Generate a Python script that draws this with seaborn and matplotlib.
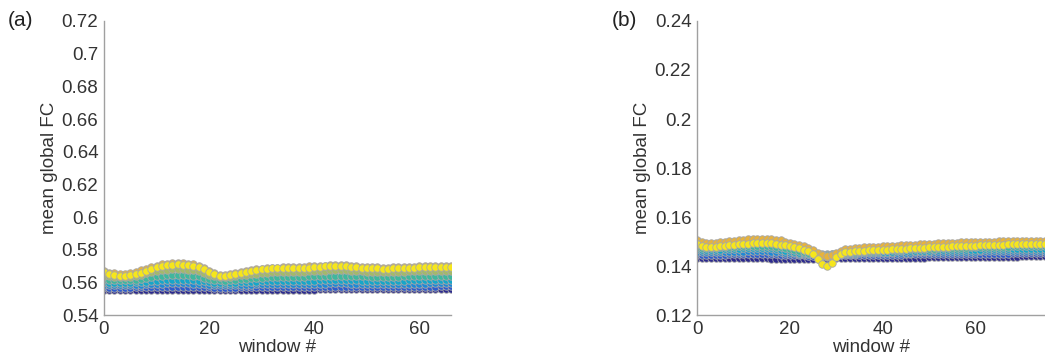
import numpy as np
import pandas as pd
import matplotlib
matplotlib.use("Agg")
import matplotlib.pyplot as plt
import seaborn as sns
from matplotlib.ticker import FuncFormatter, MultipleLocator

# -------------------------
# Data: panel (a), windows 0..66, series from dark blue (bottom) to yellow (top)
# -------------------------
a_s0 = [0.5556, 0.5556, 0.5555, 0.5555, 0.5555, 0.5555, 0.5555, 0.5555, 0.5555, 0.5556,
        0.5556, 0.5556, 0.5556, 0.5556, 0.5556, 0.5556, 0.5556, 0.5556, 0.5556, 0.5555,
        0.5555, 0.5555, 0.5555, 0.5555, 0.5555, 0.5555, 0.5555, 0.5555, 0.5555, 0.5556,
        0.5556, 0.5556, 0.5556, 0.5556, 0.5556, 0.5556, 0.5556, 0.5556, 0.5556, 0.5556,
        0.5556, 0.5557, 0.5557, 0.5557, 0.5557, 0.5557, 0.5557, 0.5557, 0.5557, 0.5557,
        0.5557, 0.5557, 0.5557, 0.5557, 0.5557, 0.5557, 0.5557, 0.5557, 0.5557, 0.5557,
        0.5558, 0.5558, 0.5558, 0.5558, 0.5558, 0.5558, 0.5558]
a_s1 = [0.5569, 0.5568, 0.5568, 0.5568, 0.5568, 0.5568, 0.5569, 0.5569, 0.5570, 0.5571,
        0.5572, 0.5572, 0.5573, 0.5573, 0.5573, 0.5573, 0.5573, 0.5572, 0.5571, 0.5570,
        0.5569, 0.5568, 0.5568, 0.5567, 0.5568, 0.5568, 0.5569, 0.5569, 0.5570, 0.5570,
        0.5570, 0.5571, 0.5571, 0.5571, 0.5571, 0.5572, 0.5572, 0.5572, 0.5572, 0.5572,
        0.5573, 0.5573, 0.5573, 0.5574, 0.5574, 0.5574, 0.5574, 0.5573, 0.5573, 0.5573,
        0.5573, 0.5572, 0.5572, 0.5572, 0.5572, 0.5572, 0.5573, 0.5573, 0.5573, 0.5573,
        0.5574, 0.5574, 0.5574, 0.5574, 0.5575, 0.5575, 0.5575]
a_s2 = [0.5584, 0.5583, 0.5582, 0.5582, 0.5582, 0.5583, 0.5584, 0.5585, 0.5587, 0.5589,
        0.5590, 0.5592, 0.5593, 0.5593, 0.5594, 0.5593, 0.5593, 0.5592, 0.5590, 0.5588,
        0.5586, 0.5584, 0.5582, 0.5582, 0.5582, 0.5583, 0.5584, 0.5585, 0.5586, 0.5587,
        0.5587, 0.5588, 0.5588, 0.5589, 0.5589, 0.5589, 0.5590, 0.5590, 0.5590, 0.5591,
        0.5591, 0.5592, 0.5592, 0.5593, 0.5593, 0.5593, 0.5593, 0.5592, 0.5592, 0.5591,
        0.5591, 0.5591, 0.5590, 0.5590, 0.5590, 0.5590, 0.5591, 0.5591, 0.5591, 0.5592,
        0.5592, 0.5592, 0.5593, 0.5593, 0.5593, 0.5594, 0.5594]
a_s3 = [0.5600, 0.5598, 0.5597, 0.5597, 0.5597, 0.5598, 0.5600, 0.5602, 0.5605, 0.5608,
        0.5611, 0.5613, 0.5615, 0.5616, 0.5616, 0.5616, 0.5615, 0.5613, 0.5610, 0.5606,
        0.5602, 0.5598, 0.5596, 0.5595, 0.5596, 0.5598, 0.5600, 0.5602, 0.5603, 0.5605,
        0.5606, 0.5607, 0.5607, 0.5608, 0.5608, 0.5609, 0.5609, 0.5610, 0.5610, 0.5611,
        0.5611, 0.5612, 0.5613, 0.5613, 0.5614, 0.5614, 0.5613, 0.5613, 0.5612, 0.5611,
        0.5611, 0.5610, 0.5610, 0.5610, 0.5610, 0.5610, 0.5611, 0.5611, 0.5612, 0.5612,
        0.5613, 0.5613, 0.5613, 0.5614, 0.5614, 0.5614, 0.5615]
a_s4 = [0.5618, 0.5615, 0.5613, 0.5612, 0.5613, 0.5614, 0.5617, 0.5621, 0.5626, 0.5631,
        0.5636, 0.5640, 0.5642, 0.5644, 0.5645, 0.5644, 0.5643, 0.5640, 0.5636, 0.5629,
        0.5622, 0.5616, 0.5612, 0.5611, 0.5612, 0.5615, 0.5618, 0.5621, 0.5624, 0.5626,
        0.5628, 0.5630, 0.5631, 0.5632, 0.5632, 0.5633, 0.5634, 0.5634, 0.5635, 0.5636,
        0.5637, 0.5638, 0.5639, 0.5640, 0.5641, 0.5641, 0.5640, 0.5639, 0.5638, 0.5637,
        0.5636, 0.5635, 0.5635, 0.5634, 0.5634, 0.5635, 0.5635, 0.5636, 0.5637, 0.5638,
        0.5638, 0.5639, 0.5639, 0.5640, 0.5640, 0.5641, 0.5641]
a_s5 = [0.5640, 0.5636, 0.5633, 0.5632, 0.5633, 0.5635, 0.5640, 0.5647, 0.5655, 0.5663,
        0.5670, 0.5675, 0.5678, 0.5680, 0.5681, 0.5680, 0.5678, 0.5675, 0.5668, 0.5657,
        0.5645, 0.5636, 0.5631, 0.5630, 0.5632, 0.5637, 0.5642, 0.5647, 0.5651, 0.5654,
        0.5657, 0.5659, 0.5661, 0.5662, 0.5663, 0.5664, 0.5665, 0.5665, 0.5666, 0.5667,
        0.5668, 0.5670, 0.5672, 0.5673, 0.5674, 0.5674, 0.5673, 0.5671, 0.5669, 0.5667,
        0.5666, 0.5665, 0.5664, 0.5663, 0.5663, 0.5664, 0.5665, 0.5666, 0.5667, 0.5668,
        0.5669, 0.5670, 0.5670, 0.5671, 0.5671, 0.5672, 0.5672]
a_s6 = [0.5668, 0.5660, 0.5655, 0.5652, 0.5654, 0.5658, 0.5664, 0.5673, 0.5683, 0.5694,
        0.5703, 0.5710, 0.5715, 0.5718, 0.5719, 0.5718, 0.5715, 0.5710, 0.5700, 0.5685,
        0.5668, 0.5655, 0.5648, 0.5646, 0.5650, 0.5657, 0.5664, 0.5670, 0.5675, 0.5679,
        0.5683, 0.5686, 0.5688, 0.5690, 0.5691, 0.5692, 0.5693, 0.5694, 0.5695, 0.5697,
        0.5699, 0.5701, 0.5703, 0.5705, 0.5706, 0.5706, 0.5704, 0.5701, 0.5698, 0.5696,
        0.5694, 0.5692, 0.5691, 0.5690, 0.5690, 0.5691, 0.5692, 0.5693, 0.5694, 0.5696,
        0.5697, 0.5698, 0.5699, 0.5700, 0.5700, 0.5701, 0.5702]
a_s7 = [0.5662, 0.5650, 0.5642, 0.5638, 0.5640, 0.5643, 0.5650, 0.5660, 0.5672, 0.5684,
        0.5694, 0.5701, 0.5706, 0.5709, 0.5710, 0.5709, 0.5707, 0.5703, 0.5695, 0.5680,
        0.5663, 0.5649, 0.5641, 0.5638, 0.5642, 0.5650, 0.5658, 0.5665, 0.5671, 0.5676,
        0.5680, 0.5683, 0.5685, 0.5686, 0.5686, 0.5687, 0.5688, 0.5688, 0.5689, 0.5690,
        0.5692, 0.5694, 0.5697, 0.5699, 0.5700, 0.5700, 0.5698, 0.5695, 0.5692, 0.5690,
        0.5688, 0.5686, 0.5685, 0.5684, 0.5684, 0.5685, 0.5686, 0.5687, 0.5688, 0.5690,
        0.5691, 0.5692, 0.5693, 0.5694, 0.5694, 0.5695, 0.5696]

# -------------------------
# Data: panel (b), windows 0..75
# -------------------------
b_s0 = [0.1432, 0.1431, 0.1431, 0.1431, 0.1431, 0.1431, 0.1431, 0.1431, 0.1431, 0.1431,
        0.1431, 0.1431, 0.1431, 0.1431, 0.1431, 0.1431, 0.1430, 0.1430, 0.1430, 0.1430,
        0.1430, 0.1430, 0.1430, 0.1430, 0.1430, 0.1430, 0.1430, 0.1430, 0.1430, 0.1430,
        0.1431, 0.1431, 0.1431, 0.1431, 0.1431, 0.1432, 0.1432, 0.1432, 0.1432, 0.1432,
        0.1433, 0.1433, 0.1433, 0.1433, 0.1433, 0.1434, 0.1434, 0.1434, 0.1434, 0.1434,
        0.1435, 0.1435, 0.1435, 0.1435, 0.1435, 0.1436, 0.1436, 0.1436, 0.1436, 0.1436,
        0.1437, 0.1437, 0.1437, 0.1437, 0.1437, 0.1438, 0.1438, 0.1438, 0.1438, 0.1438,
        0.1439, 0.1439, 0.1439, 0.1439, 0.1440, 0.1440]
b_s1 = [0.1447, 0.1446, 0.1446, 0.1446, 0.1446, 0.1446, 0.1446, 0.1447, 0.1447, 0.1447,
        0.1447, 0.1447, 0.1448, 0.1448, 0.1448, 0.1447, 0.1447, 0.1447, 0.1446, 0.1445,
        0.1445, 0.1444, 0.1443, 0.1443, 0.1442, 0.1442, 0.1441, 0.1441, 0.1441, 0.1442,
        0.1442, 0.1443, 0.1443, 0.1444, 0.1444, 0.1444, 0.1444, 0.1445, 0.1445, 0.1445,
        0.1445, 0.1446, 0.1446, 0.1446, 0.1446, 0.1447, 0.1447, 0.1447, 0.1447, 0.1448,
        0.1448, 0.1448, 0.1448, 0.1449, 0.1449, 0.1449, 0.1449, 0.1449, 0.1450, 0.1450,
        0.1450, 0.1450, 0.1450, 0.1451, 0.1451, 0.1451, 0.1451, 0.1451, 0.1452, 0.1452,
        0.1452, 0.1452, 0.1452, 0.1453, 0.1453, 0.1453]
b_s2 = [0.1457, 0.1456, 0.1456, 0.1456, 0.1456, 0.1457, 0.1457, 0.1458, 0.1458, 0.1459,
        0.1459, 0.1460, 0.1460, 0.1460, 0.1460, 0.1460, 0.1459, 0.1458, 0.1457, 0.1455,
        0.1454, 0.1452, 0.1451, 0.1450, 0.1449, 0.1448, 0.1447, 0.1447, 0.1447, 0.1447,
        0.1448, 0.1449, 0.1450, 0.1451, 0.1451, 0.1452, 0.1452, 0.1452, 0.1453, 0.1453,
        0.1453, 0.1454, 0.1454, 0.1454, 0.1455, 0.1455, 0.1455, 0.1456, 0.1456, 0.1456,
        0.1457, 0.1457, 0.1457, 0.1457, 0.1458, 0.1458, 0.1458, 0.1459, 0.1459, 0.1459,
        0.1459, 0.1460, 0.1460, 0.1460, 0.1460, 0.1461, 0.1461, 0.1461, 0.1461, 0.1462,
        0.1462, 0.1462, 0.1462, 0.1462, 0.1463, 0.1463]
b_s3 = [0.1468, 0.1466, 0.1465, 0.1465, 0.1466, 0.1467, 0.1468, 0.1469, 0.1470, 0.1471,
        0.1472, 0.1473, 0.1474, 0.1474, 0.1474, 0.1473, 0.1472, 0.1470, 0.1467, 0.1463,
        0.1460, 0.1457, 0.1455, 0.1453, 0.1451, 0.1449, 0.1447, 0.1446, 0.1446, 0.1447,
        0.1449, 0.1451, 0.1453, 0.1454, 0.1455, 0.1456, 0.1456, 0.1457, 0.1457, 0.1458,
        0.1458, 0.1459, 0.1459, 0.1460, 0.1460, 0.1461, 0.1461, 0.1462, 0.1462, 0.1463,
        0.1463, 0.1464, 0.1464, 0.1464, 0.1465, 0.1465, 0.1466, 0.1466, 0.1466, 0.1467,
        0.1467, 0.1467, 0.1468, 0.1468, 0.1468, 0.1469, 0.1469, 0.1469, 0.1470, 0.1470,
        0.1470, 0.1470, 0.1471, 0.1471, 0.1471, 0.1471]
b_s4 = [0.1478, 0.1475, 0.1474, 0.1474, 0.1475, 0.1476, 0.1477, 0.1478, 0.1479, 0.1480,
        0.1481, 0.1482, 0.1483, 0.1483, 0.1483, 0.1482, 0.1481, 0.1479, 0.1476, 0.1472,
        0.1468, 0.1464, 0.1461, 0.1458, 0.1455, 0.1452, 0.1448, 0.1445, 0.1444, 0.1445,
        0.1449, 0.1452, 0.1455, 0.1457, 0.1459, 0.1460, 0.1461, 0.1462, 0.1462, 0.1463,
        0.1464, 0.1465, 0.1465, 0.1466, 0.1467, 0.1468, 0.1468, 0.1469, 0.1470, 0.1470,
        0.1471, 0.1471, 0.1472, 0.1472, 0.1473, 0.1474, 0.1474, 0.1475, 0.1475, 0.1476,
        0.1476, 0.1477, 0.1477, 0.1478, 0.1478, 0.1479, 0.1479, 0.1479, 0.1480, 0.1480,
        0.1480, 0.1481, 0.1481, 0.1481, 0.1482, 0.1482]
b_s5 = [0.1492, 0.1487, 0.1485, 0.1484, 0.1485, 0.1487, 0.1489, 0.1491, 0.1493, 0.1495,
        0.1497, 0.1499, 0.1500, 0.1501, 0.1501, 0.1500, 0.1499, 0.1497, 0.1494, 0.1490,
        0.1486, 0.1482, 0.1478, 0.1474, 0.1468, 0.1460, 0.1450, 0.1440, 0.1436, 0.1440,
        0.1450, 0.1457, 0.1461, 0.1464, 0.1466, 0.1467, 0.1468, 0.1469, 0.1470, 0.1471,
        0.1472, 0.1473, 0.1474, 0.1475, 0.1476, 0.1477, 0.1478, 0.1479, 0.1480, 0.1481,
        0.1482, 0.1482, 0.1483, 0.1484, 0.1485, 0.1485, 0.1486, 0.1487, 0.1487, 0.1488,
        0.1489, 0.1489, 0.1490, 0.1490, 0.1491, 0.1491, 0.1492, 0.1492, 0.1493, 0.1493,
        0.1493, 0.1494, 0.1494, 0.1494, 0.1495, 0.1495]
b_s6 = [0.1505, 0.1498, 0.1495, 0.1494, 0.1495, 0.1497, 0.1499, 0.1501, 0.1503, 0.1505,
        0.1507, 0.1509, 0.1511, 0.1512, 0.1512, 0.1511, 0.1510, 0.1508, 0.1505, 0.1500,
        0.1495, 0.1490, 0.1485, 0.1480, 0.1473, 0.1465, 0.1455, 0.1445, 0.1440, 0.1445,
        0.1455, 0.1463, 0.1468, 0.1471, 0.1473, 0.1475, 0.1476, 0.1477, 0.1478, 0.1479,
        0.1480, 0.1481, 0.1482, 0.1483, 0.1484, 0.1485, 0.1486, 0.1487, 0.1488, 0.1489,
        0.1490, 0.1491, 0.1492, 0.1493, 0.1494, 0.1495, 0.1495, 0.1496, 0.1497, 0.1497,
        0.1498, 0.1499, 0.1499, 0.1500, 0.1500, 0.1501, 0.1501, 0.1502, 0.1502, 0.1502,
        0.1503, 0.1503, 0.1503, 0.1504, 0.1504, 0.1504]
b_s7 = [0.1490, 0.1482, 0.1478, 0.1477, 0.1478, 0.1480, 0.1482, 0.1484, 0.1486, 0.1488,
        0.1490, 0.1491, 0.1493, 0.1494, 0.1494, 0.1493, 0.1492, 0.1490, 0.1487, 0.1484,
        0.1480, 0.1476, 0.1472, 0.1467, 0.1460, 0.1448, 0.1430, 0.1410, 0.1400, 0.1412,
        0.1435, 0.1450, 0.1456, 0.1459, 0.1461, 0.1462, 0.1463, 0.1464, 0.1465, 0.1465,
        0.1466, 0.1467, 0.1468, 0.1469, 0.1470, 0.1471, 0.1472, 0.1473, 0.1474, 0.1475,
        0.1476, 0.1477, 0.1477, 0.1478, 0.1479, 0.1480, 0.1480, 0.1481, 0.1482, 0.1483,
        0.1483, 0.1484, 0.1485, 0.1485, 0.1486, 0.1487, 0.1487, 0.1488, 0.1488, 0.1489,
        0.1489, 0.1490, 0.1490, 0.1490, 0.1491, 0.1491]

series_a = [a_s0, a_s1, a_s2, a_s3, a_s4, a_s5, a_s6, a_s7]
series_b = [b_s0, b_s1, b_s2, b_s3, b_s4, b_s5, b_s6, b_s7]

# parula-like colours, dark blue -> yellow
palette = ["#2c2a8e", "#2f5ccc", "#1f88d6", "#16a6c9", "#3fb79e",
           "#a3b96a", "#e7b33c", "#f6e61c"]

sns.set_style("white")
plt.rcParams["font.family"] = ["Liberation Sans", "DejaVu Sans"]
plt.rcParams["font.size"] = 13.5

TEXT = "#333333"
SPINE = "#a0a0a0"


def to_long(series_list):
    rows = []
    for k, vals in enumerate(series_list):
        for w, v in enumerate(vals):
            rows.append((w, v, k))
    return pd.DataFrame(rows, columns=["window", "fc", "series"])


def draw_panel(ax, series_list, xmax, ylo, yhi):
    df = to_long(series_list)
    sns.lineplot(
        data=df, x="window", y="fc", hue="series",
        palette=palette, estimator=None, legend=False,
        marker="o", markersize=5.4, markeredgecolor="#a8a8a8",
        markeredgewidth=0.6, linewidth=0.8, ax=ax,
    )
    ax.set_xlim(0, xmax)
    ax.set_ylim(ylo, yhi)
    ax.xaxis.set_major_locator(MultipleLocator(20))
    ax.yaxis.set_major_locator(MultipleLocator(0.02))
    ax.yaxis.set_major_formatter(FuncFormatter(lambda v, p: f"{round(v, 4):g}"))

    for side in ["top", "right"]:
        ax.spines[side].set_visible(False)
    for side in ["left", "bottom"]:
        ax.spines[side].set_color(SPINE)
        ax.spines[side].set_linewidth(1.0)

    ax.tick_params(direction="in", length=3, width=0.8, color=SPINE,
                   labelcolor=TEXT, labelsize=13.5, pad=4)
    ax.set_xlabel("window #", color=TEXT, fontsize=13.5, labelpad=1)
    ax.set_ylabel("mean global FC", color=TEXT, fontsize=13.5, labelpad=3)


fig = plt.figure(figsize=(10.45, 3.62), dpi=100)
ax_a = fig.add_axes([0.0995, 0.1298, 0.3321, 0.8122])
ax_b = fig.add_axes([0.6670, 0.1298, 0.3330, 0.8122])

draw_panel(ax_a, series_a, 66, 0.54, 0.72)
draw_panel(ax_b, series_b, 75, 0.12, 0.24)

# panel letters
fig.text(8 / 1045, 1 - 21 / 362, "(a)", fontsize=15, color="#222222",
         ha="left", va="center")
fig.text(612 / 1045, 1 - 21 / 362, "(b)", fontsize=15, color="#222222",
         ha="left", va="center")

fig.savefig("out.png", dpi=100)
